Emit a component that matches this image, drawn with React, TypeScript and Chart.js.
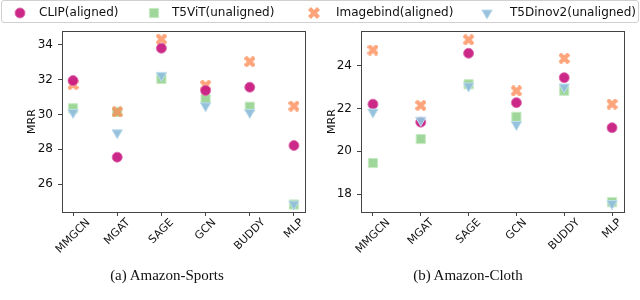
import React, { useEffect, useRef } from 'react';
import { Chart, registerables } from 'chart.js';

Chart.register(...registerables);

// ---------- data ----------
const CATEGORIES = ['MMGCN', 'MGAT', 'SAGE', 'GCN', 'BUDDY', 'MLP'];
const SERIES_NAMES = ['CLIP(aligned)', 'T5ViT(unaligned)', 'Imagebind(aligned)', 'T5Dinov2(unaligned)'];

const SPORTS_CLIP = [31.95, 27.55, 33.81, 31.38, 31.57, 28.22];
const SPORTS_T5VIT = [30.36, 30.15, 32.05, 30.9, 30.45, 24.83];
const SPORTS_IMAGEBIND = [31.72, 30.15, 34.33, 31.68, 33.04, 30.48];
const SPORTS_T5DINOV2 = [30.12, 28.95, 32.25, 30.5, 30.12, 24.85];

const CLOTH_CLIP = [22.2, 21.36, 24.58, 22.27, 23.44, 21.1];
const CLOTH_T5VIT = [19.45, 20.57, 23.13, 21.61, 22.83, 17.62];
const CLOTH_IMAGEBIND = [24.73, 22.14, 25.21, 22.82, 24.34, 22.2];
const CLOTH_T5DINOV2 = [21.83, 21.45, 23.05, 21.25, 23.0, 17.55];

const SPORTS_RANGE = [24.4, 34.8];
const CLOTH_RANGE = [17.16, 25.62];
const Y_STEP = 2;
const Y_TITLE = 'MRR';
const CAPTIONS = ['(a) Amazon-Sports', '(b) Amazon-Cloth'];

// ---------- styles ----------
const COLORS = {
  clip: 'rgba(200,22,126,0.92)',
  clipEdge: 'rgba(222,110,175,0.9)',
  vit: 'rgba(153,213,148,0.95)',
  vitEdge: 'rgba(200,234,196,1)',
  bind: 'rgba(252,141,89,0.8)',
  dino: 'rgba(145,191,219,0.95)',
  dinoEdge: 'rgba(190,220,236,1)',
};
const FONT = '"DejaVu Sans", sans-serif';
const AXIS_COLOR = '#444';

function makeX(color: string, size: number) {
  const c = document.createElement('canvas');
  c.width = size;
  c.height = size;
  const ctx = c.getContext('2d')!;
  ctx.translate(size / 2, size / 2);
  ctx.rotate(Math.PI / 4);
  const a = size * 0.58;
  const w = size * 0.19;
  ctx.beginPath();
  ctx.moveTo(-w, -a);
  ctx.lineTo(w, -a);
  ctx.lineTo(w, -w);
  ctx.lineTo(a, -w);
  ctx.lineTo(a, w);
  ctx.lineTo(w, w);
  ctx.lineTo(w, a);
  ctx.lineTo(-w, a);
  ctx.lineTo(-w, w);
  ctx.lineTo(-a, w);
  ctx.lineTo(-a, -w);
  ctx.lineTo(-w, -w);
  ctx.closePath();
  ctx.fillStyle = color;
  ctx.fill();
  return c;
}

const framePlugin = {
  id: 'frame',
  afterDraw(chart: any) {
    const { ctx, chartArea } = chart;
    ctx.save();
    ctx.strokeStyle = AXIS_COLOR;
    ctx.lineWidth = 1;
    ctx.strokeRect(
      Math.round(chartArea.left) + 0.5,
      Math.round(chartArea.top) + 0.5,
      Math.round(chartArea.right - chartArea.left),
      Math.round(chartArea.bottom - chartArea.top)
    );
    // rotated, centered category labels (matplotlib style)
    const xs = chart.scales.x;
    ctx.fillStyle = '#111';
    ctx.font = `11px ${FONT}`;
    ctx.textAlign = 'center';
    ctx.textBaseline = 'middle';
    const top = chartArea.bottom + 6;
    CATEGORIES.forEach((label, i) => {
      const x = xs.getPixelForValue(i);
      const L = ctx.measureText(label).width;
      const h = 8;
      const bb = (L + h) * Math.SQRT1_2;
      ctx.save();
      ctx.translate(x, top + bb / 2);
      ctx.rotate(-Math.PI / 4);
      ctx.fillText(label, 0, 0);
      ctx.restore();
    });
    ctx.restore();
  },
};

function buildConfig(
  clip: number[],
  vit: number[],
  bind: number[],
  dino: number[],
  range: number[],
  padLeft: number,
  yWidth: number,
  padRight: number
) {
  const xMarker = makeX(COLORS.bind, 11);
  const pts = (arr: number[]) => arr.map((v, i) => ({ x: i, y: v }));
  return {
    type: 'scatter' as const,
    data: {
      datasets: [
        {
          label: SERIES_NAMES[0],
          data: pts(clip),
          pointStyle: 'circle',
          pointRadius: 5,
          backgroundColor: COLORS.clip,
          borderColor: COLORS.clipEdge,
          borderWidth: 1,
          order: 1,
        },
        {
          label: SERIES_NAMES[1],
          data: pts(vit),
          pointStyle: 'rect',
          pointRadius: 6.5,
          backgroundColor: COLORS.vit,
          borderColor: COLORS.vitEdge,
          borderWidth: 1,
          order: 3,
        },
        {
          label: SERIES_NAMES[2],
          data: pts(bind),
          pointStyle: xMarker,
          pointRadius: 6,
          backgroundColor: COLORS.bind,
          borderColor: COLORS.bind,
          borderWidth: 0,
          order: 2,
        },
        {
          label: SERIES_NAMES[3],
          data: pts(dino),
          pointStyle: 'triangle',
          pointRotation: 180,
          pointRadius: 6,
          backgroundColor: COLORS.dino,
          borderColor: COLORS.dinoEdge,
          borderWidth: 1,
          order: 0,
        },
      ],
    },
    options: {
      animation: false,
      responsive: false,
      events: [],
      layout: { padding: { left: padLeft, top: 31, right: padRight, bottom: 0 } },
      plugins: { legend: { display: false }, tooltip: { enabled: false } },
      scales: {
        x: {
          type: 'linear',
          min: -0.25,
          max: 5.25,
          border: { display: false },
          grid: { drawOnChartArea: false, drawTicks: true, tickLength: 4, tickColor: AXIS_COLOR },
          ticks: { stepSize: 1, includeBounds: false, callback: () => '', padding: 0 },
          afterFit: (s: any) => {
            s.height = 88;
          },
        },
        y: {
          min: range[0],
          max: range[1],
          border: { display: false },
          grid: { drawOnChartArea: false, drawTicks: true, tickLength: 4, tickColor: AXIS_COLOR },
          ticks: {
            stepSize: Y_STEP,
            includeBounds: false,
            color: '#111',
            padding: 5,
            font: { family: FONT, size: 12 },
          },
          title: {
            display: true,
            text: Y_TITLE,
            color: '#111',
            padding: { top: 4, bottom: 0 },
            font: { family: FONT, size: 11 },
          },
          afterFit: (s: any) => {
            s.width = yWidth;
          },
        },
      },
    },
    plugins: [framePlugin],
  };
}

function Panel(props: any) {
  const ref = useRef<HTMLCanvasElement>(null);
  useEffect(() => {
    const chart = new Chart(ref.current!, props.config() as any);
    return () => chart.destroy();
  }, []);
  return (
    <canvas
      ref={ref}
      width={320}
      height={300}
      style={{ position: 'absolute', left: props.left, top: 0, width: 320, height: 300 }}
    />
  );
}

function LegendMarker({ kind }: { kind: number }) {
  if (kind === 0)
    return (
      <svg width="14" height="14" viewBox="-7 -7 14 14">
        <circle r="5" fill={COLORS.clip} stroke={COLORS.clipEdge} strokeWidth="1" />
      </svg>
    );
  if (kind === 1)
    return (
      <svg width="14" height="14" viewBox="-7 -7 14 14">
        <rect x="-4.6" y="-4.6" width="9.2" height="9.2" fill={COLORS.vit} stroke={COLORS.vitEdge} strokeWidth="1" />
      </svg>
    );
  if (kind === 2)
    return (
      <svg width="14" height="14" viewBox="-7 -7 14 14">
        <path
          transform="rotate(45)"
          d="M-2.1,-6.4 L2.1,-6.4 L2.1,-2.1 L6.4,-2.1 L6.4,2.1 L2.1,2.1 L2.1,6.4 L-2.1,6.4 L-2.1,2.1 L-6.4,2.1 L-6.4,-2.1 L-2.1,-2.1 Z"
          fill={COLORS.bind}
        />
      </svg>
    );
  return (
    <svg width="14" height="14" viewBox="-7 -7 14 14">
      <path d="M-5.2,-3 L5.2,-3 L0,6 Z" fill={COLORS.dino} stroke={COLORS.dinoEdge} strokeWidth="1" />
    </svg>
  );
}

const LEGEND_MARKER_X = [19.5, 153.5, 313.5, 487];
const LEGEND_TEXT_X = [39, 172, 336, 510];

export default function App() {
  return (
    <div
      style={{
        position: 'absolute',
        left: 0,
        top: 0,
        width: 640,
        height: 300,
        background: '#fff',
        overflow: 'hidden',
      }}
    >
      <Panel
        left={0}
        config={() => buildConfig(SPORTS_CLIP, SPORTS_T5VIT, SPORTS_IMAGEBIND, SPORTS_T5DINOV2, SPORTS_RANGE, 22, 40, 15)}
      />
      <Panel
        left={320}
        config={() => buildConfig(CLOTH_CLIP, CLOTH_T5VIT, CLOTH_IMAGEBIND, CLOTH_T5DINOV2, CLOTH_RANGE, 2, 39, 16)}
      />
      <div
        style={{
          position: 'absolute',
          left: 1,
          top: 0,
          width: 636,
          height: 21,
          border: '1px solid #d0d0d0',
          borderRadius: 3,
          background: 'rgba(255,255,255,0.8)',
        }}
      />
      {SERIES_NAMES.map((name, i) => (
        <React.Fragment key={name}>
          <div style={{ position: 'absolute', left: LEGEND_MARKER_X[i] - 7, top: 5.5, width: 14, height: 14 }}>
            <LegendMarker kind={i} />
          </div>
          <div
            style={{
              position: 'absolute',
              left: LEGEND_TEXT_X[i],
              top: 4,
              fontFamily: FONT,
              fontSize: 12,
              lineHeight: '16px',
              color: '#111',
              whiteSpace: 'nowrap',
            }}
          >
            {name}
          </div>
        </React.Fragment>
      ))}
      {CAPTIONS.map((c, i) => (
        <div
          key={c}
          style={{
            position: 'absolute',
            left: i === 0 ? 167 - 100 : 468 - 100,
            width: 200,
            top: 265,
            textAlign: 'center',
            fontFamily: '"Liberation Serif", "Times New Roman", serif',
            fontSize: 15,
            lineHeight: '20px',
            color: '#111',
          }}
        >
          {c}
        </div>
      ))}
    </div>
  );
}
